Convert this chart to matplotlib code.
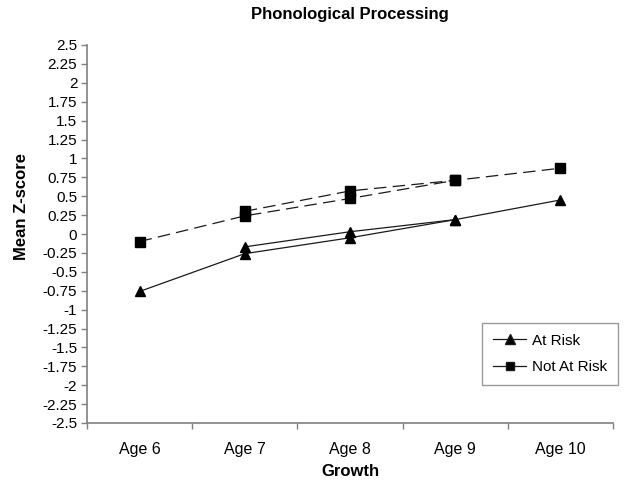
import numpy as np
import matplotlib
matplotlib.use("Agg")
import matplotlib.pyplot as plt
from matplotlib.lines import Line2D

plt.rcParams['font.family'] = ['Liberation Sans', 'DejaVu Sans']

ages = ['Age 6', 'Age 7', 'Age 8', 'Age 9', 'Age 10']
at_risk_cohort1 = [-0.76, -0.26, -0.05, 0.19, np.nan]
at_risk_cohort2 = [np.nan, -0.17, 0.03, 0.19, 0.45]
not_at_risk_cohort1 = [-0.10, 0.24, 0.47, 0.71, np.nan]
not_at_risk_cohort2 = [np.nan, 0.30, 0.57, 0.71, 0.87]
y_ticks = np.arange(-2.5, 2.51, 0.25)

W, H = 635, 488
fig = plt.figure(figsize=(W / 100, H / 100), dpi=100)
ax = fig.add_axes([87 / W, (H - 423) / H, (613 - 87) / W, (423 - 45) / H])

x = np.arange(1, len(ages) + 1)
line_col = '#1a1a1a'
for ys in (at_risk_cohort1, at_risk_cohort2):
    ax.plot(x, ys, color=line_col, lw=0.9, marker='^', ms=7.5,
            markerfacecolor='black', markeredgecolor='black')
for ys in (not_at_risk_cohort1, not_at_risk_cohort2):
    ax.plot(x, ys, color=line_col, lw=0.9, dashes=(10, 5), marker='s', ms=6.5,
            markerfacecolor='black', markeredgecolor='black')

ax.set_xlim(0.5, len(ages) + 0.5)
ax.set_ylim(-2.5, 2.5)
ax.set_yticks(y_ticks)
ax.set_yticklabels([f'{v:g}' for v in y_ticks])
ax.set_xticks(x)
ax.set_xticklabels(ages)
ax.set_xticks(np.arange(0.5, len(ages) + 1, 1.0), minor=True)
ax.tick_params(axis='x', which='major', length=0, pad=14, labelsize=11.5)
ax.tick_params(axis='x', which='minor', length=4, color='#808080', width=1)
ax.tick_params(axis='y', length=4, color='#808080', width=1, labelsize=11, pad=3)

for s in ('top', 'right'):
    ax.spines[s].set_visible(False)
for s in ('left', 'bottom'):
    ax.spines[s].set_color('#808080')
    ax.spines[s].set_linewidth(1.2)

fig.text(350 / W, 1 - 15 / H, 'Phonological Processing', ha='center', va='center',
         fontsize=12, fontweight='bold')
fig.text(22 / W, 1 - 207 / H, 'Mean Z-score', ha='center', va='center',
         rotation=90, fontsize=12, fontweight='bold')
fig.text(350 / W, 1 - 472 / H, 'Growth', ha='center', va='center',
         fontsize=12, fontweight='bold')

handles = [Line2D([], [], color=line_col, lw=0.9, marker='^', ms=7, markerfacecolor='black'),
           Line2D([], [], color=line_col, lw=0.9, marker='s', ms=6, markerfacecolor='black')]
leg = ax.legend(handles, ['At Risk', 'Not At Risk'], loc='upper left',
                bbox_to_anchor=(482 / W, 1 - 323 / H), bbox_transform=fig.transFigure,
                frameon=True, fancybox=False, fontsize=11, handlelength=2.2,
                borderpad=0.7, labelspacing=0.8, handletextpad=0.4, borderaxespad=0)
leg.get_frame().set_edgecolor('#808080')
leg.get_frame().set_linewidth(1.0)

fig.savefig('out.png', dpi=100)
